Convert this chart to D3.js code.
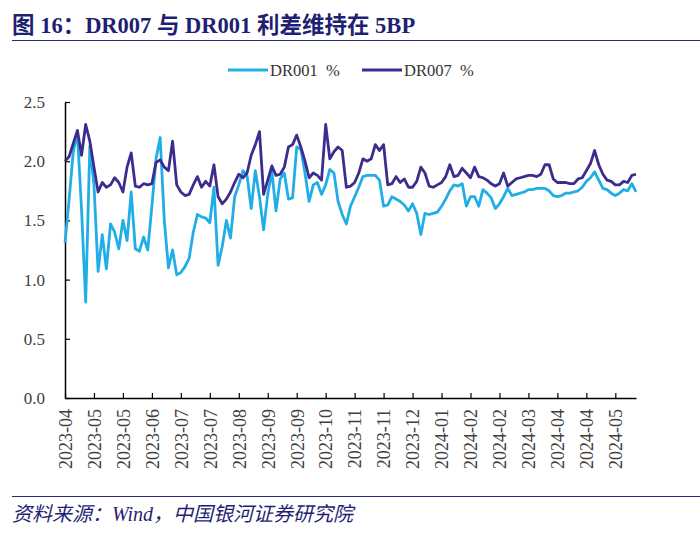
<!DOCTYPE html>
<html><head><meta charset="utf-8">
<script src="https://cdn.jsdelivr.net/npm/d3@7"></script>
<style>
body{margin:0;background:#fff;}
svg{display:block;}
</style></head>
<body>
<svg id="chart" width="700" height="538"></svg>
<script>
const titleText = "图 16：DR007 与 DR001 利差维持在 5BP";
const sourceText = "资料来源：Wind，中国银河证券研究院";
const seriesNames = ["DR001 %", "DR007 %"];
const tickLabels = ["2023-04","2023-05","2023-05","2023-06","2023-07","2023-07","2023-08","2023-09","2023-09","2023-10","2023-11","2023-11","2023-12","2024-01","2024-02","2024-02","2024-03","2024-04","2024-04","2024-05"];
const pointsPerTick = 7;
const yTicks = [0.0, 0.5, 1.0, 1.5, 2.0, 2.5];

const dr001 = [
1.31,1.68,2.08,2.24,1.59,0.81,2.13,1.80,1.07,1.38,
1.09,1.47,1.40,1.26,1.50,1.33,1.74,1.26,1.24,1.36,
1.25,1.62,2.02,2.20,1.50,1.10,1.25,1.04,1.06,1.11,
1.18,1.40,1.55,1.53,1.52,1.48,1.78,1.12,1.28,1.50,
1.35,1.70,1.80,1.92,1.88,1.60,1.92,1.70,1.42,1.72,
1.91,1.58,1.85,1.90,1.68,1.69,2.12,2.10,1.90,1.66,
1.80,1.82,1.72,1.80,1.93,1.90,1.66,1.55,1.47,1.62,
1.70,1.78,1.87,1.88,1.88,1.88,1.84,1.62,1.63,1.70,
1.68,1.66,1.63,1.58,1.64,1.56,1.38,1.56,1.55,1.56,
1.57,1.62,1.68,1.75,1.80,1.79,1.81,1.62,1.70,1.70,
1.62,1.76,1.73,1.69,1.60,1.64,1.70,1.77,1.71,1.72,
1.73,1.74,1.76,1.76,1.77,1.77,1.77,1.75,1.71,1.70,
1.71,1.73,1.73,1.74,1.75,1.78,1.83,1.86,1.91,1.84,
1.77,1.76,1.73,1.71,1.73,1.76,1.75,1.81,1.74
];
const dr007 = [
2.00,2.04,2.15,2.26,2.05,2.31,2.17,1.95,1.74,1.82,
1.78,1.80,1.86,1.82,1.74,1.95,2.07,1.79,1.78,1.81,
1.80,1.81,1.99,2.01,1.95,1.92,2.17,1.80,1.74,1.71,
1.72,1.80,1.87,1.78,1.83,1.79,1.97,1.70,1.64,1.68,
1.74,1.82,1.89,1.86,1.90,2.05,2.14,2.25,1.72,1.84,
1.96,1.88,1.89,1.95,2.12,2.14,2.22,2.12,2.00,1.86,
1.90,1.88,1.84,2.31,2.02,2.08,2.12,2.09,1.78,1.79,
1.82,1.90,2.02,2.00,2.02,2.14,2.09,2.14,1.80,1.81,
1.87,1.82,1.85,1.78,1.78,1.83,1.95,1.90,1.79,1.78,
1.80,1.82,1.87,1.97,1.87,1.88,1.94,1.90,1.86,1.95,
1.87,1.86,1.84,1.81,1.79,1.81,1.90,1.79,1.82,1.85,
1.86,1.87,1.88,1.88,1.87,1.89,1.97,1.97,1.85,1.82,
1.82,1.82,1.81,1.81,1.85,1.86,1.92,1.98,2.09,1.97,
1.89,1.84,1.83,1.80,1.80,1.83,1.82,1.88,1.89
];
const colors = ["#21aee6", "#3d2c8d"];

const svg = d3.select("#chart");
const serif = "'Liberation Serif','Times New Roman','Noto Sans CJK SC',serif";

// title
svg.append("text").attr("x", 12).attr("y", 33)
  .attr("font-family", serif).attr("font-weight", "bold").attr("font-size", 22.5)
  .attr("fill", "#1f1f73").text(titleText);
svg.append("line").attr("x1", 12).attr("x2", 700).attr("y1", 40.5).attr("y2", 40.5)
  .attr("stroke", "#2a2a7a").attr("stroke-width", 1.2);
svg.append("line").attr("x1", 12).attr("x2", 700).attr("y1", 496.5).attr("y2", 496.5)
  .attr("stroke", "#2a2a7a").attr("stroke-width", 1.2);
svg.append("text").attr("x", 12).attr("y", 521)
  .attr("font-family", serif).attr("font-style", "italic").attr("font-size", 20)
  .attr("fill", "#1f1f73").text(sourceText);

const plotLeft = 65, plotRight = 636, plotTop = 102, plotBottom = 398;
const n = dr001.length;
const x = d3.scaleLinear().domain([0, n - 1]).range([plotLeft, plotRight]);
const y = d3.scaleLinear().domain([0, 2.5]).range([plotBottom, plotTop]);

// axes
const yAxis = d3.axisLeft(y).tickValues(yTicks).tickFormat(d3.format(".1f")).tickSizeInner(-5).tickSizeOuter(0).tickPadding(20);
const gy = svg.append("g").attr("transform", `translate(${plotLeft},0)`).call(yAxis);
gy.select(".domain").attr("stroke", "#000").attr("stroke-width", 1.5);
gy.selectAll(".tick line").attr("stroke", "#000").attr("stroke-width", 1.2);
gy.selectAll("text").attr("font-family", serif).attr("font-size", 17).attr("fill", "#404040");

const tickIdx = tickLabels.map((d, i) => i * pointsPerTick);
const xAxis = d3.axisBottom(x).tickValues(tickIdx).tickFormat((d, i) => tickLabels[i]).tickSizeInner(-5).tickSizeOuter(0);
const gx = svg.append("g").attr("transform", `translate(0,${plotBottom})`).call(xAxis);
gx.select(".domain").attr("stroke", "#000").attr("stroke-width", 1.5);
gx.selectAll(".tick line").attr("stroke", "#000").attr("stroke-width", 1.2);
gx.selectAll("text").attr("font-family", serif).attr("font-size", 18).attr("fill", "#404040")
  .attr("transform", "rotate(-90)").attr("text-anchor", "end").attr("dx", "-11").attr("dy", "0.35em").attr("x", 0).attr("y", 0);

// lines
const line = d3.line().x((d, i) => x(i)).y(d => y(d)).curve(d3.curveLinear);
[dr001, dr007].forEach((s, k) => {
  svg.append("path").datum(s).attr("d", line).attr("fill", "none")
    .attr("stroke", colors[k]).attr("stroke-width", 2.8).attr("stroke-linejoin", "round");
});

// legend
const legendX = [228, 362];
seriesNames.forEach((name, k) => {
  const g = svg.append("g").attr("transform", `translate(${legendX[k]},70)`);
  g.append("line").attr("x1", 0).attr("x2", 40).attr("y1", 0).attr("y2", 0)
    .attr("stroke", colors[k]).attr("stroke-width", 2.8);
  g.append("text").attr("x", 42).attr("y", 5.5).attr("font-family", serif).attr("font-size", 16.5)
    .attr("fill", "#333").text(name.replace(" ", "\u00a0\u00a0"));
});
</script>
</body></html>
